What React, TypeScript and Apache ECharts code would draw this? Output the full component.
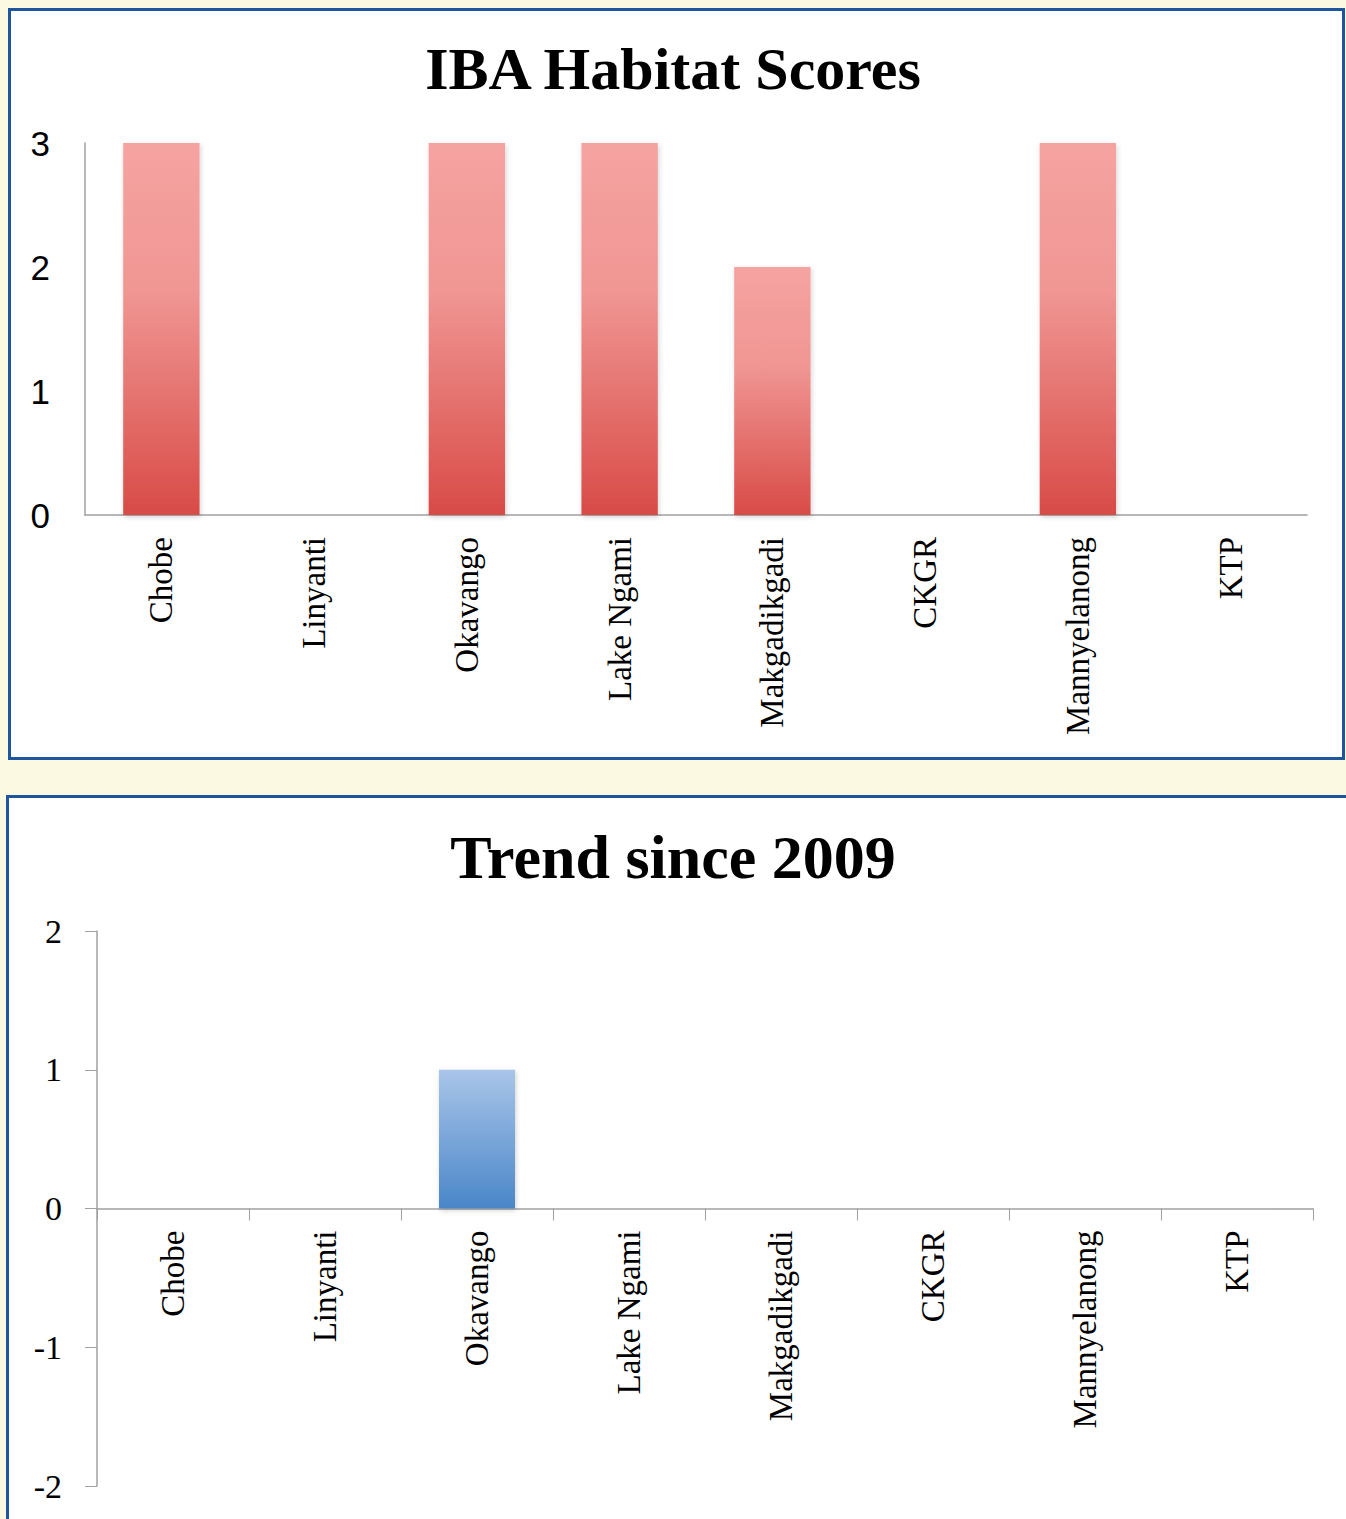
import React, { useEffect, useRef } from "react";
import * as echarts from "echarts";

const categories = ["Chobe", "Linyanti", "Okavango", "Lake Ngami", "Makgadikgadi", "CKGR", "Mannyelanong", "KTP"];
const habitatScores = [3, 0, 3, 3, 2, 0, 3, 0];
const trendScores = [0, 0, 1, 0, 0, 0, 0, 0];
const topTitle = "IBA Habitat Scores";
const bottomTitle = "Trend since 2009";

const W = 1346;
const H = 1519;

export default function App() {
  const ref = useRef<HTMLDivElement>(null);
  useEffect(() => {
    document.body.style.margin = "0";
    const chart = echarts.init(ref.current!, null, { renderer: "svg" });
    const redGrad = new echarts.graphic.LinearGradient(0, 0, 0, 1, [
      { offset: 0, color: "#f5a3a1" },
      { offset: 0.4, color: "#f09693" },
      { offset: 1, color: "#d84b47" },
    ]);
    const blueGrad = new echarts.graphic.LinearGradient(0, 0, 0, 1, [
      { offset: 0, color: "#a9c5e8" },
      { offset: 1, color: "#4a86c9" },
    ]);
    const border = "#1d559f";
    const xLabel = { rotate: 90, margin: 22, fontFamily: "Liberation Serif", fontSize: 33, color: "#000", interval: 0 };
    const grid2Height = 555;
    chart.setOption({
      animation: false,
      backgroundColor: "#fcf9e3",
      graphic: [
        {
          type: "rect",
          z: -10,
          shape: { x: 9.5, y: 9.5, width: 1334, height: 749 },
          style: { fill: "#ffffff", stroke: border, lineWidth: 3 },
        },
        {
          type: "rect",
          z: -10,
          shape: { x: 7.5, y: 796.5, width: 1360, height: 800 },
          style: { fill: "#ffffff", stroke: border, lineWidth: 3 },
        },
      ],
      title: [
        {
          text: topTitle,
          left: "center",
          top: 34,
          textStyle: { fontFamily: "Liberation Serif", fontWeight: "bold", fontSize: 60, color: "#000" },
        },
        {
          text: bottomTitle,
          left: "center",
          top: 821,
          textStyle: { fontFamily: "Liberation Serif", fontWeight: "bold", fontSize: 62, color: "#000" },
        },
      ],
      grid: [
        { left: 85, top: 143, width: 1222, height: 372, containLabel: false, outerBoundsMode: "none" },
        { left: 97, top: 931, width: 1216, height: grid2Height, containLabel: false, outerBoundsMode: "none" },
      ],
      xAxis: [
        {
          type: "category",
          gridIndex: 0,
          data: categories,
          axisLine: { lineStyle: { color: "#a0a0a0", width: 1.5 } },
          axisTick: { show: false },
          axisLabel: xLabel,
        },
        {
          type: "category",
          gridIndex: 1,
          data: categories,
          position: "bottom",
          offset: -grid2Height / 2,
          axisLine: { onZero: false, lineStyle: { color: "#a0a0a0", width: 1.5 } },
          axisTick: { show: true, length: 12, lineStyle: { color: "#a0a0a0" } },
          axisLabel: xLabel,
        },
      ],
      yAxis: [
        {
          type: "value",
          gridIndex: 0,
          min: 0,
          max: 3,
          interval: 1,
          splitLine: { show: false },
          axisLine: { show: true, lineStyle: { color: "#a0a0a0", width: 1.5 } },
          axisTick: { show: false },
          axisLabel: { margin: 35, fontFamily: "Liberation Sans", fontSize: 35, color: "#000" },
        },
        {
          type: "value",
          gridIndex: 1,
          min: -2,
          max: 2,
          interval: 1,
          splitLine: { show: false },
          axisLine: { show: true, lineStyle: { color: "#a0a0a0", width: 1.5 } },
          axisTick: { show: true, length: 12, lineStyle: { color: "#a0a0a0" } },
          axisLabel: { margin: 35, fontFamily: "Liberation Serif", fontSize: 34, color: "#000" },
        },
      ],
      series: [
        {
          type: "bar",
          xAxisIndex: 0,
          yAxisIndex: 0,
          data: habitatScores,
          barWidth: "50%",
          itemStyle: { color: redGrad, shadowBlur: 5, shadowColor: "rgba(0,0,0,0.18)", shadowOffsetX: 1, shadowOffsetY: 2 },
        },
        {
          type: "bar",
          xAxisIndex: 1,
          yAxisIndex: 1,
          data: trendScores,
          barWidth: "50%",
          itemStyle: { color: blueGrad, shadowBlur: 5, shadowColor: "rgba(0,0,0,0.18)", shadowOffsetX: 1, shadowOffsetY: 2 },
        },
      ],
    });
    return () => chart.dispose();
  }, []);
  return <div ref={ref} style={{ width: W, height: H }} />;
}
